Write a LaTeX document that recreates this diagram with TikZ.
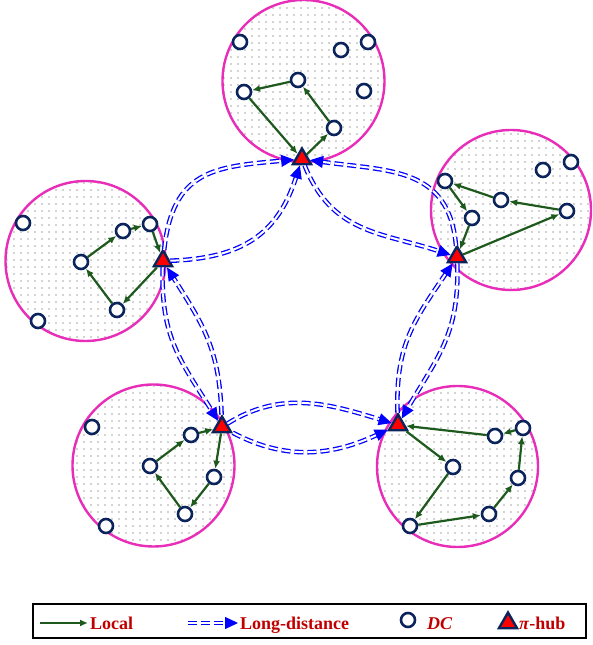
\documentclass[tikz,border=0pt]{standalone}
\usepackage{fontspec}
\setmainfont{Liberation Serif}
\usetikzlibrary{arrows.meta,shapes.geometric,patterns.meta}

\definecolor{ringpink}{RGB}{232,46,184}
\definecolor{dcnavy}{RGB}{12,36,92}
\definecolor{localgreen}{RGB}{30,90,30}
\definecolor{labelred}{RGB}{192,0,0}

\tikzset{
    cluster/.style={draw=ringpink, line width=2.4pt, pattern={Dots[distance=7pt, radius=0.6pt]}, pattern color=black!75},
    dc/.style={circle, draw=dcnavy, line width=2.6pt, fill=white, inner sep=0pt, minimum size=14pt},
    hub/.style={regular polygon, regular polygon sides=3, draw=dcnavy, line width=2.4pt, fill=red, inner sep=0pt, minimum size=21pt},
    local/.style={draw=localgreen, line width=2.2pt, -{Latex[length=8pt, width=7pt]}},
    longd/.style={draw=blue, line width=1.3pt, double=white, double distance=2pt, dash pattern=on 9pt off 4pt, -{Triangle[length=13pt, width=12pt]}},
    legtext/.style={text=labelred, font=\fontsize{18}{20}\selectfont\bfseries, anchor=base west, inner sep=1pt},
}

\begin{document}
\begin{tikzpicture}[x=1pt, y=1pt]
    \useasboundingbox (0,0) rectangle (592,645);

    % clusters
    \draw[cluster] (303.5,564) circle[radius=81pt];
    \draw[cluster] (511,435) circle[radius=80pt];
    \draw[cluster] (85.5,384) circle[radius=80pt];
    \draw[cluster] (153.5,179.5) circle[radius=81pt];
    \draw[cluster] (457.5,178.5) circle[radius=80.5pt];

    % hubs
    \node[hub] (ht) at (302,486) {};
    \node[hub] (hr) at (457,388) {};
    \node[hub] (hl) at (163,384) {};
    \node[hub] (hbl) at (222,218) {};
    \node[hub] (hbr) at (398,220) {};

    % data centres
    \foreach \n/\x/\y in {t1/240/603, t2/341/595, t3/368/603, t4/298/565, t5/244/553, t6/364/554, t7/334/517,
                          r1/445/464, r2/472/427, r3/501/445, r4/543/475, r5/571/483, r6/567/434,
                          l1/23/422, l2/38/324, l3/81/383, l4/123/414, l5/150/421, l6/117/335,
                          bl1/92/218, bl2/106/119, bl3/191/210, bl4/150/179, bl5/214/168, bl6/185/131,
                          br1/495/209, br2/523/217, br3/453/178, br4/518/167, br5/489/131, br6/410/119} {
        \node[dc] (\n) at (\x,\y) {};
    }

    % local traffic
    \foreach \a/\b in {ht/t7, t7/t4, t4/t5, t5/ht,
                       hr/r6, r6/r3, r3/r1, r1/r2, r2/hr,
                       l3/l4, l4/l5, l5/hl, hl/l6, l6/l3,
                       bl3/hbl, hbl/bl5, bl5/bl6, bl6/bl4, bl4/bl3,
                       br1/hbr, hbr/br3, br3/br6, br6/br5, br5/br4, br4/br2, br2/br1} {
        \draw[local] (\a) -- (\b);
    }

    % long-distance traffic
    \draw[longd] (hl) to[out=84, in=185, looseness=1.3] (ht);
    \draw[longd] (hl) to[out=2, in=-108, looseness=1.15] (ht);
    \draw[longd] (hr) to[out=95, in=-8, looseness=1.2] (ht);
    \draw[longd] (ht) to[out=-68, in=162, looseness=1.1] (hr);
    \draw[longd] (hbr) to[out=92, in=-124, looseness=1.1] (hr);
    \draw[longd] (hr) to[out=-88, in=60, looseness=1.1] (hbr);
    \draw[longd] (hl) to[out=-92, in=122, looseness=1.1] (hbl);
    \draw[longd] (hbl) to[out=92, in=-58, looseness=1.1] (hl);
    \draw[longd] (hbl) to[out=32, in=163] (hbr);
    \draw[longd] (hbl) to[out=-28, in=205] (hbr);

    % legend
    \node[draw, line width=1.8pt, minimum width=553pt, minimum height=34pt, inner sep=0pt] (legend) at (309.5,24) {};
    \coordinate (la) at (40,22);
    \coordinate (lb) at (88,22);
    \draw[local] (la) -- (lb);
    \node[legtext] (loc) at (89,15) {Local};
    \coordinate (da) at (188,22);
    \coordinate (db) at (238,22);
    \draw[longd] (da) -- (db);
    \node[legtext] (ld) at (239,15) {Long-distance};
    \node[dc] (ldc) at (408,25) {};
    \node[legtext] (dct) at (426,15) {\textit{DC}};
    \node[hub] (lhub) at (508,22) {};
    \node[legtext] (pih) at (518,15) {\textit{π}-hub};
\end{tikzpicture}
\end{document}
